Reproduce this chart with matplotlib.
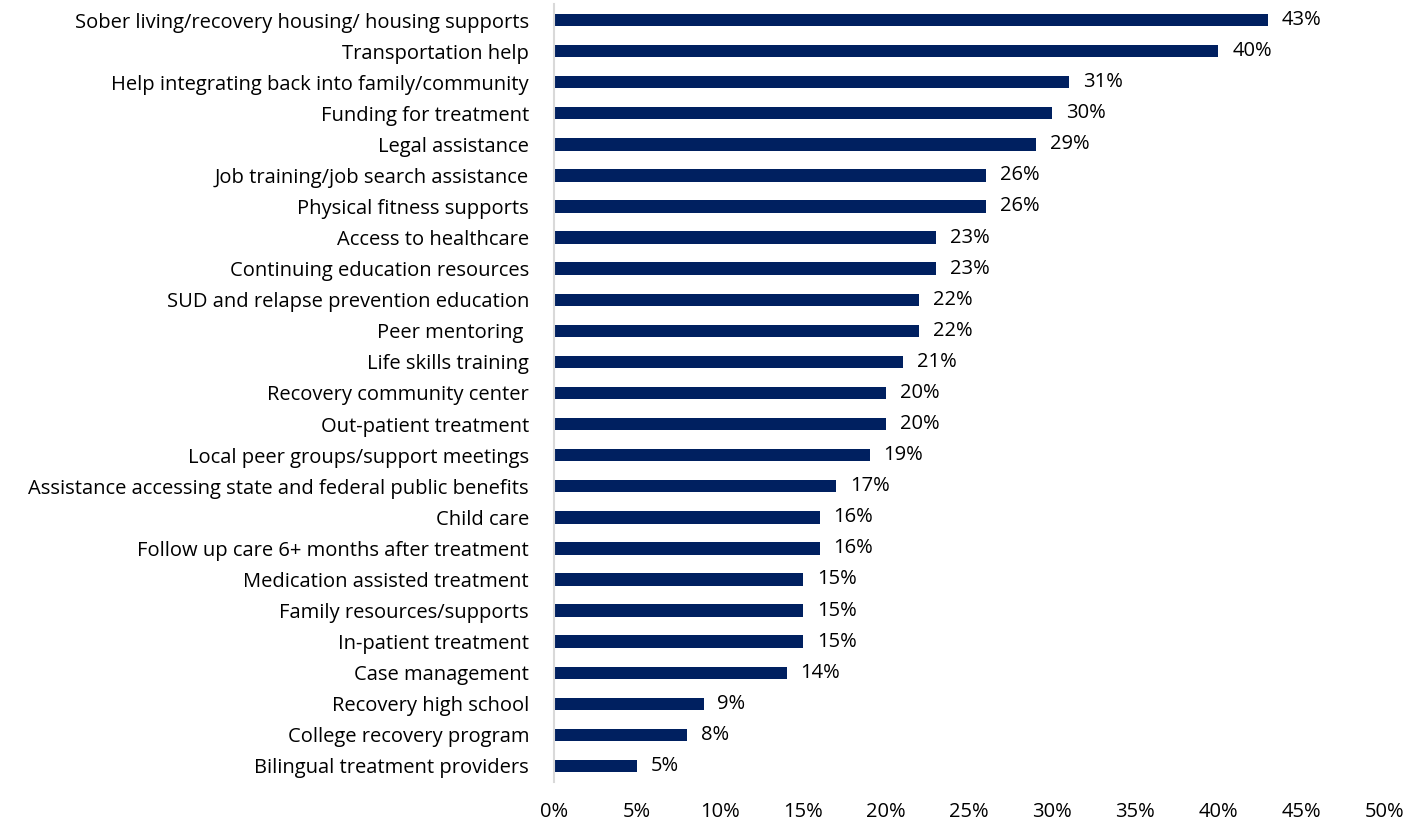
import matplotlib
matplotlib.use("Agg")
import matplotlib.pyplot as plt
from matplotlib.ticker import FuncFormatter

categories = [
    "Sober living/recovery housing/ housing supports",
    "Transportation help",
    "Help integrating back into family/community",
    "Funding for treatment",
    "Legal assistance",
    "Job training/job search assistance",
    "Physical fitness supports",
    "Access to healthcare",
    "Continuing education resources",
    "SUD and relapse prevention education",
    "Peer mentoring ",
    "Life skills training",
    "Recovery community center",
    "Out-patient treatment",
    "Local peer groups/support meetings",
    "Assistance accessing state and federal public benefits",
    "Child care",
    "Follow up care 6+ months after treatment",
    "Medication assisted treatment",
    "Family resources/supports",
    "In-patient treatment",
    "Case management",
    "Recovery high school",
    "College recovery program",
    "Bilingual treatment providers",
]
values = [43, 40, 31, 30, 29, 26, 26, 23, 23, 22, 22, 21, 20, 20, 19, 17, 16, 16, 15, 15, 15, 14, 9, 8, 5]
xticks = [0, 5, 10, 15, 20, 25, 30, 35, 40, 45, 50]

plt.rcParams['font.family'] = ['Open Sans', 'DejaVu Sans']

fig = plt.figure(figsize=(14.12, 8.27), dpi=100)
ax = fig.add_axes([0.3924, 0.055, 0.588, 0.9396])

y = list(range(len(categories)))
ax.barh(y, values, height=0.4, color="#002060")
ax.set_yticks(y)
ax.set_yticklabels(categories, fontsize=14.5, color="#000000")
ax.set_ylim(len(categories) - 0.5, -0.5)
ax.set_xlim(0, 50)
ax.set_xticks(xticks)
ax.xaxis.set_major_formatter(FuncFormatter(lambda v, p: f"{int(v)}%"))
ax.tick_params(axis='x', length=0, pad=15, labelsize=14.5)
ax.tick_params(axis='y', length=0, pad=18)

for i, v in enumerate(values):
    ax.annotate(f"{v}%", xy=(v, i), xytext=(10, 0), textcoords="offset points",
                va="center", ha="left", fontsize=14.5, color="#000000")

for s in ["top", "right", "bottom"]:
    ax.spines[s].set_visible(False)
ax.spines["left"].set_color("#D9D9D9")
ax.spines["left"].set_linewidth(1.5)

fig.savefig("out.png", dpi=100, facecolor="white")
